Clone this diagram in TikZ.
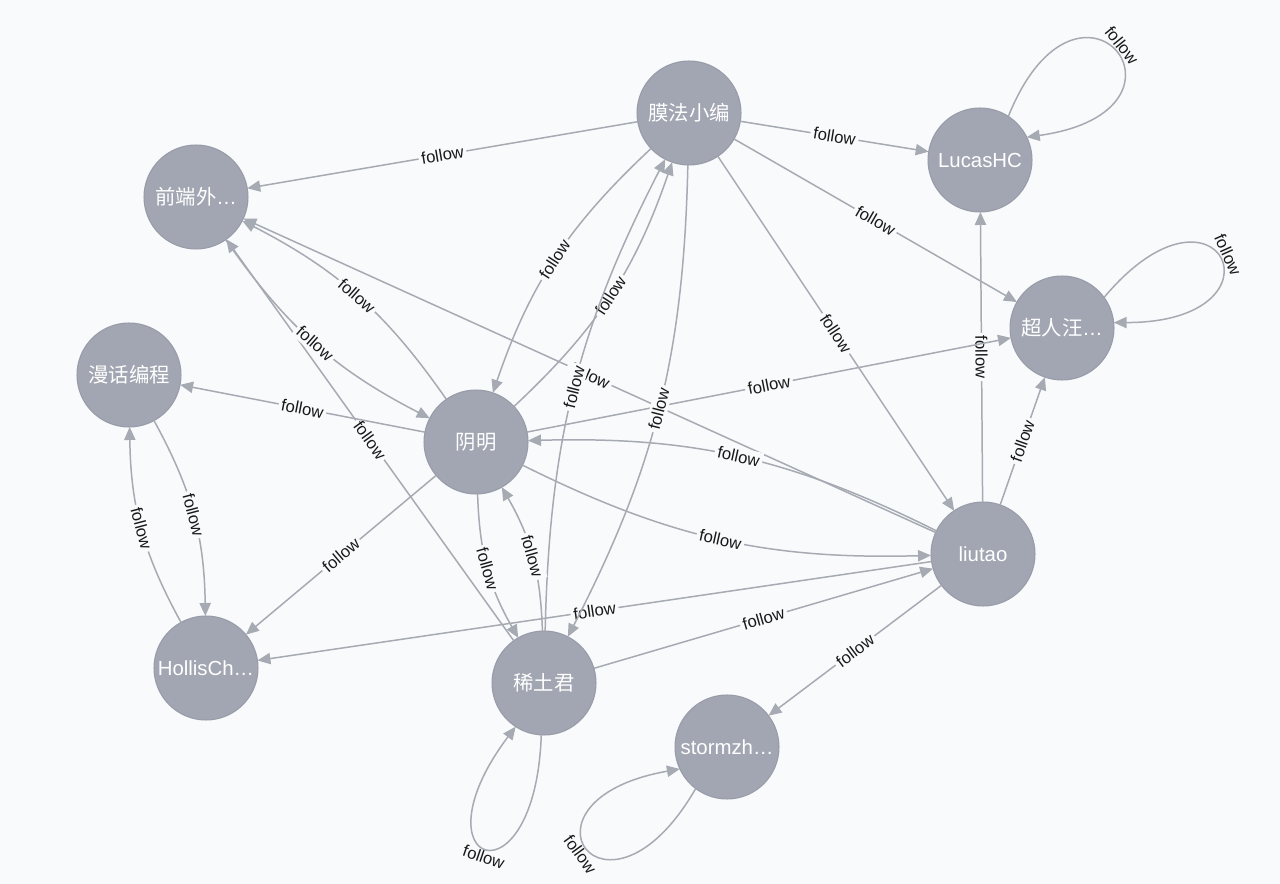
\documentclass[tikz,border=0pt]{standalone}
\usepackage{fontspec}
\setmainfont{Liberation Sans}
\newfontfamily\cjk{Noto Sans CJK SC}
\usetikzlibrary{arrows.meta}
\definecolor{bgc}{RGB}{248,250,252}
\definecolor{nodec}{RGB}{162,166,178}
\definecolor{nodeb}{RGB}{152,156,168}
\definecolor{edgec}{RGB}{166,170,178}
\definecolor{lblc}{RGB}{25,25,25}
\begin{document}
\begin{tikzpicture}[x=0.02cm,y=-0.02cm,
  person/.style={circle, fill=nodec, draw=nodeb, line width=0.6pt, minimum size=2.08cm,
    inner sep=0pt, outer sep=0pt, text=white, font=\fontsize{11.6}{13}\selectfont},
  rel/.style={draw=edgec, line width=0.85pt, -{Triangle[length=7.4pt,width=6.4pt]}},
  lbl/.style={fill=bgc, inner sep=1.6pt, text=lblc, font=\fontsize{9.5}{11}\selectfont, sloped},
  looplbl/.style={inner sep=1.2pt, text=lblc, font=\fontsize{9.5}{11}\selectfont, sloped},
]
\fill[bgc] (0,0) rectangle (1280,884);
\useasboundingbox (0,0) rectangle (1280,884);

\node[person] (mf) at (689,113) {\cjk 膜法小编};
\node[person] (qd) at (196,197) {{\cjk 前端外}…};
\node[person] (lucas) at (980,160) {LucasHC};
\node[person] (cr) at (1062,328) {{\cjk 超人汪}…};
\node[person] (mh) at (129,375) {\cjk 漫话编程};
\node[person] (ym) at (476,442) {\cjk 阴明};
\node[person] (lt) at (983,554) {liutao};
\node[person] (hc) at (206,668) {HollisCh…};
\node[person] (xt) at (544,683) {\cjk 稀土君};
\node[person] (st) at (727,747) {stormzh…};

% straight edges
\draw[rel] (mf) -- node[lbl]{follow} (qd);
\draw[rel] (mf) -- node[lbl]{follow} (lucas);
\draw[rel] (mf) -- node[lbl]{follow} (cr);
\draw[rel] (mf) -- node[lbl]{follow} (lt);
\draw[rel] (lt) -- node[lbl]{follow} (lucas);
\draw[rel] (lt) -- node[lbl]{follow} (cr);
\draw[rel] (ym) -- node[lbl]{follow} (cr);
\draw[rel] (lt) -- node[lbl]{follow} (qd);
\draw[rel] (xt) -- node[lbl]{follow} (qd);
\draw[rel] (ym) -- node[lbl]{follow} (mh);
\draw[rel] (ym) -- node[lbl]{follow} (hc);
\draw[rel] (lt) -- node[lbl]{follow} (hc);
\draw[rel] (xt) -- node[lbl]{follow} (lt);
\draw[rel] (lt) -- node[lbl]{follow} (st);

% curved pairs
\draw[rel] (mf) to[bend right=14] node[lbl]{follow} (ym);
\draw[rel] (ym) to[bend right=14] node[lbl]{follow} (mf);
\draw[rel] (xt) to[bend left=13] node[lbl]{follow} (mf);
\draw[rel] (mf) to[bend left=13] node[lbl]{follow} (xt);
\draw[rel] (lt) to[bend right=14] node[lbl]{follow} (ym);
\draw[rel] (ym) to[bend right=14] node[lbl]{follow} (lt);
\draw[rel] (ym) to[bend right=14] node[lbl]{follow} (qd);
\draw[rel] (qd) to[bend right=14] node[lbl]{follow} (ym);
\draw[rel] (mh) to[bend left=14] node[lbl]{follow} (hc);
\draw[rel] (hc) to[bend left=14] node[lbl]{follow} (mh);
\draw[rel] (ym) to[bend right=14] node[lbl]{follow} (xt);
\draw[rel] (xt) to[bend right=14] node[lbl]{follow} (ym);

% self loops
\draw[rel] (lucas.57) .. controls +(68:3.8cm) and +(8:3.8cm) .. (lucas.26)
  node[looplbl, pos=0.5, above]{follow};
\draw[rel] (cr.36) .. controls +(50:3.6cm) and +(0:3.6cm) .. (cr.6)
  node[looplbl, pos=0.5, above]{follow};
\draw[rel] (xt.267) .. controls +(-92:3.5cm) and +(233:3.5cm) .. (xt.237)
  node[looplbl, pos=0.5, below]{follow};
\draw[rel] (st.233) .. controls +(240:3.6cm) and +(190:3.6cm) .. (st.205)
  node[looplbl, pos=0.5, below]{follow};
\end{tikzpicture}
\end{document}
